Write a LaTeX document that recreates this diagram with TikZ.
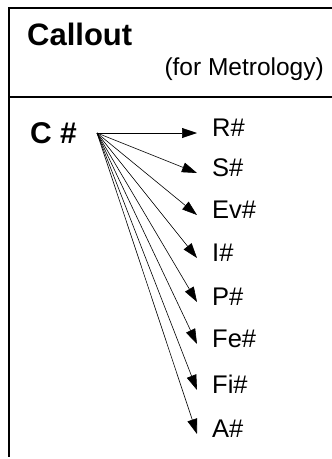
\documentclass[tikz,border=0pt]{standalone}
\usepackage{fontspec}
\setmainfont{Liberation Sans}
\usetikzlibrary{positioning, arrows.meta, calc}

\tikzset{
  frameline/.style={line width=1.6pt, line cap=rect},
  fanarrow/.style={line width=0.6pt, -{Triangle[length=15pt, width=10pt]}},
  numlabel/.style={anchor=west, inner xsep=15pt, inner ysep=0pt,
                   text height=0.72em, text depth=0pt, font=\fontsize{25.5}{27}\selectfont},
}

\begin{document}
\begin{tikzpicture}[x=1pt, y=-1pt]
    \useasboundingbox (0,0) rectangle (332,459);
    % frame of the callout
    \draw[frameline] (333,8) -- (9,8) -- (9,456);
    \draw[frameline] (9,97) -- (333,97);
    % heading
    \node[anchor=base west, inner sep=0pt, font=\fontsize{31}{33}\selectfont\bfseries] (title) at (27,45) {Callout};
    \node[anchor=base east, inner sep=0pt, font=\fontsize{24.5}{26}\selectfont] (subtitle) at (324,75) {(for Metrology)};
    % callout number and its fan of references
    \node[anchor=base west, inner sep=0pt, font=\fontsize{30}{32}\selectfont\bfseries] (cnum) at (30,143) {C \#};
    \coordinate (fan) at (97,133);
    \node[numlabel] (rnum) at (197,133) {R\#};
    \node[numlabel] (snum) at (197,173) {S\#};
    \node[numlabel] (evnum) at (197,215) {Ev\#};
    \node[numlabel] (inum) at (197,258) {I\#};
    \node[numlabel] (pnum) at (197,302) {P\#};
    \node[numlabel] (fenum) at (197,344) {Fe\#};
    \node[numlabel] (finum) at (197,390) {Fi\#};
    \node[numlabel] (anum) at (197,434) {A\#};
    \draw[fanarrow] (fan) -- (rnum.west);
    \draw[fanarrow] (fan) -- (snum.west);
    \draw[fanarrow] (fan) -- (evnum.west);
    \draw[fanarrow] (fan) -- (inum.west);
    \draw[fanarrow] (fan) -- (pnum.west);
    \draw[fanarrow] (fan) -- (fenum.west);
    \draw[fanarrow] (fan) -- (finum.west);
    \draw[fanarrow] (fan) -- (anum.west);
\end{tikzpicture}
\end{document}
